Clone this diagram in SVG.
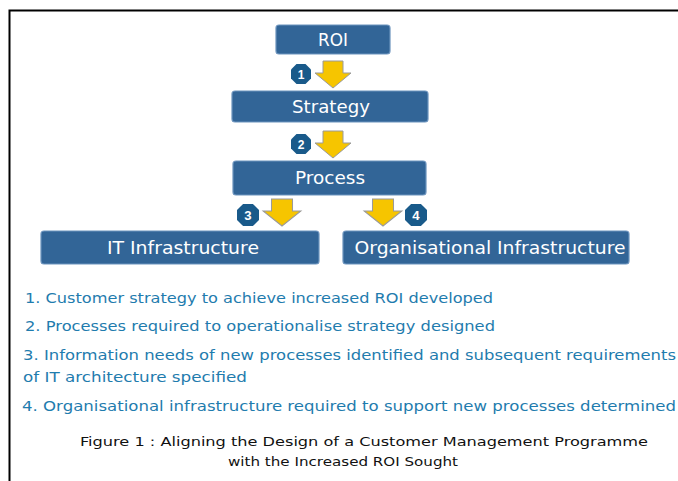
<svg xmlns="http://www.w3.org/2000/svg" width="678" height="481" viewBox="0 0 678 481">
<style>
.box{fill:#326597;stroke:#6b93bd;stroke-width:1.2}
.bt{font-family:"DejaVu Sans","Liberation Sans",sans-serif;font-size:17px;fill:#ffffff;text-anchor:middle}
.num{fill:#195a8a}
.nt{font-family:"Liberation Sans",sans-serif;font-size:12px;font-weight:bold;fill:#ffffff;text-anchor:middle}
.arr{fill:#f6c500;stroke:#9a9a9a;stroke-width:1}
.li{font-family:"DejaVu Sans","Liberation Sans",sans-serif;font-size:14px;fill:#1f7cae}
.cap{font-family:"DejaVu Sans","Liberation Sans",sans-serif;font-size:13px;fill:#111111}
</style>
<defs>
<path id="arrow" d="M-10,0 H10 V12 H18 L0,27 L-18,12 H-10 Z"/>
<polygon id="oct" points="-4.5,-10 4.5,-10 10,-4.5 10,4.5 4.5,10 -4.5,10 -10,4.5 -10,-4.5"/>
</defs>
<rect width="678" height="481" fill="#ffffff"/>
<path d="M9.5,481 V10.5 H678" fill="none" stroke="#000" stroke-width="2"/>

<g id="roi">
<rect class="box" x="276" y="25" width="114" height="29" rx="3"/>
<text class="bt" x="333" y="46" textLength="30" lengthAdjust="spacingAndGlyphs">ROI</text>
</g>
<g id="strategy">
<rect class="box" x="232" y="91" width="196" height="31" rx="3"/>
<text class="bt" x="331" y="113" textLength="78" lengthAdjust="spacingAndGlyphs">Strategy</text>
</g>
<g id="process">
<rect class="box" x="233" y="161" width="193" height="34" rx="3"/>
<text class="bt" x="330" y="184" textLength="70" lengthAdjust="spacingAndGlyphs">Process</text>
</g>
<g id="it">
<rect class="box" x="41" y="231" width="278" height="33" rx="3"/>
<text class="bt" x="183" y="254" textLength="152" lengthAdjust="spacingAndGlyphs">IT Infrastructure</text>
</g>
<g id="org">
<rect class="box" x="343" y="231" width="286" height="33" rx="3"/>
<text class="bt" x="490" y="254" textLength="271" lengthAdjust="spacingAndGlyphs">Organisational Infrastructure</text>
</g>

<g id="connectors">
<use href="#arrow" class="arr" transform="translate(333,61)"/>
<use href="#arrow" class="arr" transform="translate(333,131)"/>
<use href="#arrow" class="arr" transform="translate(282,199) scale(1.05,1)"/>
<use href="#arrow" class="arr" transform="translate(383,199) scale(1.05,1)"/>
<g transform="translate(301,74)"><use href="#oct" class="num"/><text class="nt" y="4.5">1</text></g>
<g transform="translate(301,144)"><use href="#oct" class="num"/><text class="nt" y="4.5">2</text></g>
<g transform="translate(248,215) scale(1.1)"><use href="#oct" class="num"/><text class="nt" y="4.5">3</text></g>
<g transform="translate(416,215) scale(1.1)"><use href="#oct" class="num"/><text class="nt" y="4.5">4</text></g>
</g>

<g id="legend">
<text class="li" x="25" y="303" textLength="468" lengthAdjust="spacingAndGlyphs">1. Customer strategy to achieve increased ROI developed</text>
<text class="li" x="25" y="331" textLength="470" lengthAdjust="spacingAndGlyphs">2. Processes required to operationalise strategy designed</text>
<text class="li" x="23" y="360" textLength="653" lengthAdjust="spacingAndGlyphs">3. Information needs of new processes identified and subsequent requirements</text>
<text class="li" x="23" y="382" textLength="224" lengthAdjust="spacingAndGlyphs">of IT architecture specified</text>
<text class="li" x="22" y="411" textLength="654" lengthAdjust="spacingAndGlyphs">4. Organisational infrastructure required to support new processes determined</text>
<text class="cap" x="80" y="446" textLength="568" lengthAdjust="spacingAndGlyphs">Figure 1 : Aligning the Design of a Customer Management Programme</text>
<text class="cap" x="228" y="466" textLength="230" lengthAdjust="spacingAndGlyphs">with the Increased ROI Sought</text>
</g>
</svg>
